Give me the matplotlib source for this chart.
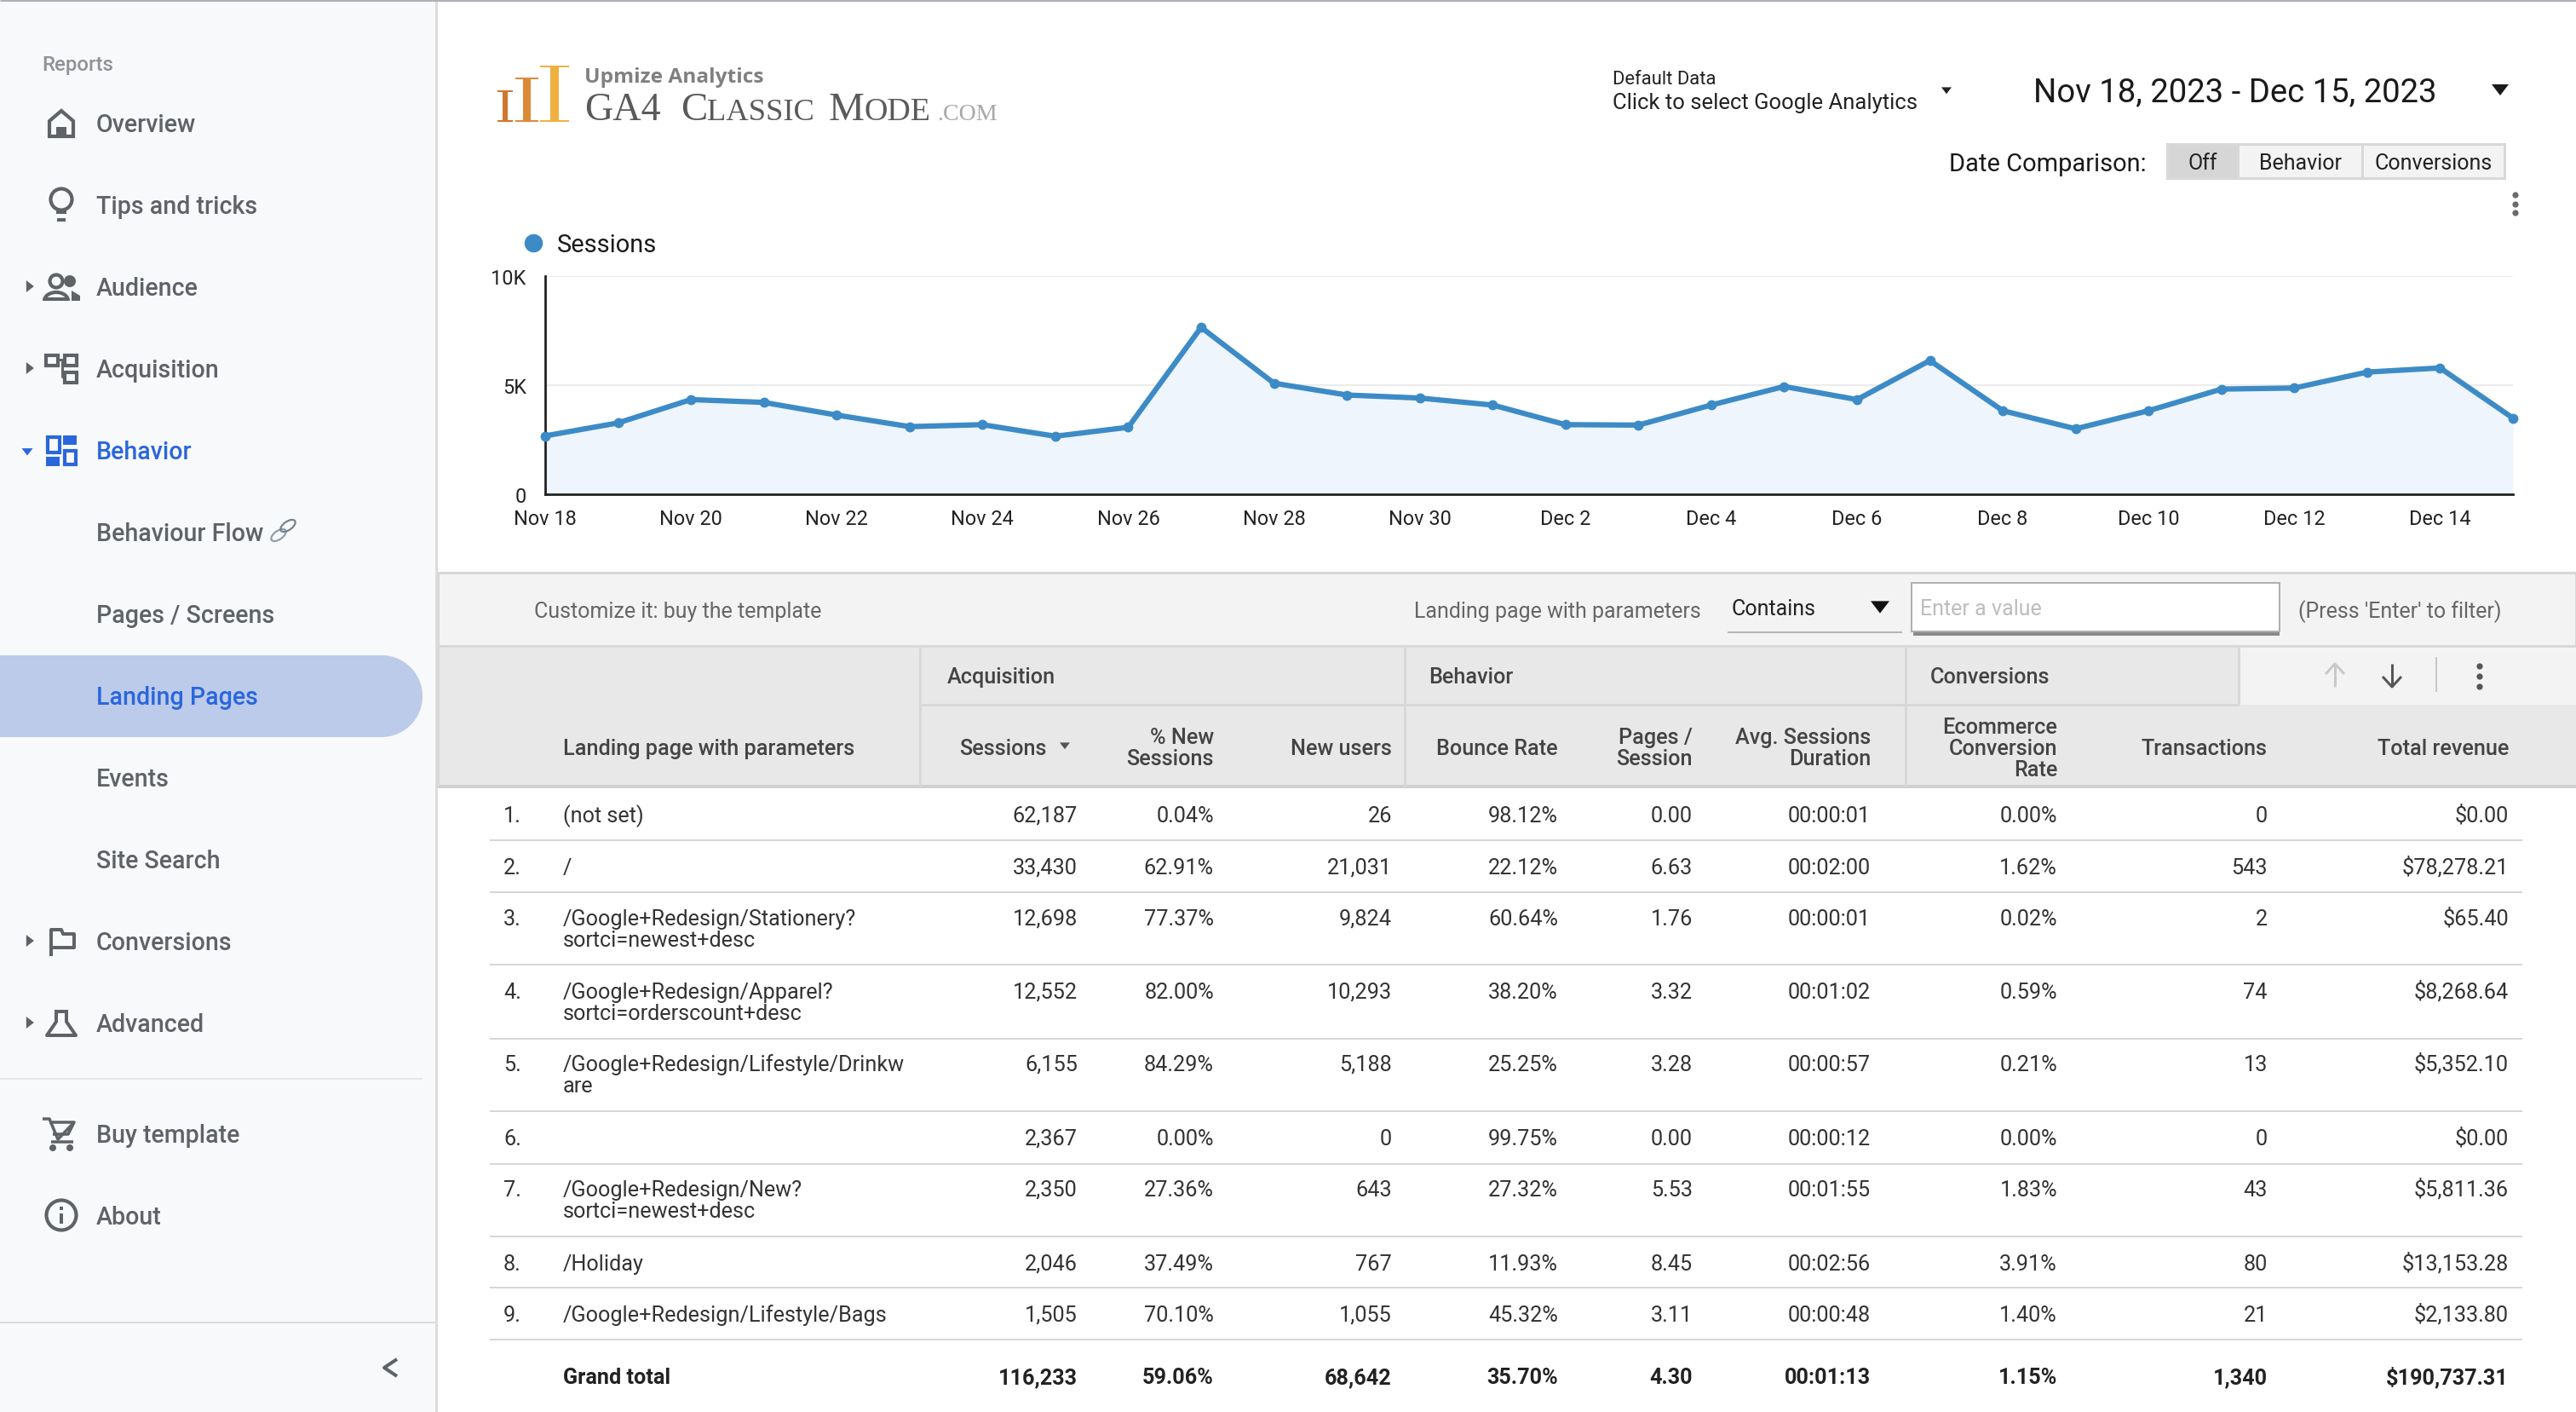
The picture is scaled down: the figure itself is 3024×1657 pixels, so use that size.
import matplotlib
matplotlib.use("Agg")
import matplotlib.pyplot as plt
from matplotlib.lines import Line2D
from matplotlib.patches import Rectangle, Circle, Ellipse, Polygon, Arc

plt.rcParams['font.family'] = ['Roboto', 'DejaVu Sans']

# chart data
days = ["Nov 18", "Nov 19", "Nov 20", "Nov 21", "Nov 22", "Nov 23", "Nov 24", "Nov 25", "Nov 26", "Nov 27",
        "Nov 28", "Nov 29", "Nov 30", "Dec 1", "Dec 2", "Dec 3", "Dec 4", "Dec 5", "Dec 6", "Dec 7",
        "Dec 8", "Dec 9", "Dec 10", "Dec 11", "Dec 12", "Dec 13", "Dec 14", "Dec 15"]
sessions = [2675, 3270, 4340, 4210, 3630, 3100, 3190, 2660, 3070, 7650,
            5090, 4550, 4410, 4090, 3190, 3170, 4090, 4940, 4340, 6130,
            3830, 3000, 3830, 4820, 4870, 5600, 5790, 3490]

# table data
pages = ["(not set)", "/", "/Google+Redesign/Stationery?\nsortci=newest+desc",
         "/Google+Redesign/Apparel?\nsortci=orderscount+desc",
         "/Google+Redesign/Lifestyle/Drinkw\nare", "", "/Google+Redesign/New?\nsortci=newest+desc",
         "/Holiday", "/Google+Redesign/Lifestyle/Bags"]
col_sessions = ["62,187", "33,430", "12,698", "12,552", "6,155", "2,367", "2,350", "2,046", "1,505"]
col_new_pct = ["0.04%", "62.91%", "77.37%", "82.00%", "84.29%", "0.00%", "27.36%", "37.49%", "70.10%"]
col_new_users = ["26", "21,031", "9,824", "10,293", "5,188", "0", "643", "767", "1,055"]
col_bounce = ["98.12%", "22.12%", "60.64%", "38.20%", "25.25%", "99.75%", "27.32%", "11.93%", "45.32%"]
col_pages = ["0.00", "6.63", "1.76", "3.32", "3.28", "0.00", "5.53", "8.45", "3.11"]
col_duration = ["00:00:01", "00:02:00", "00:00:01", "00:01:02", "00:00:57", "00:00:12", "00:01:55", "00:02:56", "00:00:48"]
col_ecom = ["0.00%", "1.62%", "0.02%", "0.59%", "0.21%", "0.00%", "1.83%", "3.91%", "1.40%"]
col_trans = ["0", "543", "2", "74", "13", "0", "43", "80", "21"]
col_revenue = ["$0.00", "$78,278.21", "$65.40", "$8,268.64", "$5,352.10", "$0.00", "$5,811.36", "$13,153.28", "$2,133.80"]
totals = ["116,233", "59.06%", "68,642", "35.70%", "4.30", "00:01:13", "1.15%", "1,340", "$190,737.31"]
columns = [col_sessions, col_new_pct, col_new_users, col_bounce, col_pages, col_duration, col_ecom, col_trans, col_revenue]
headers = ["Sessions", "% New\nSessions", "New users", "Bounce Rate", "Pages /\nSession", "Avg. Sessions\nDuration",
           "Ecommerce\nConversion\nRate", "Transactions", "Total revenue"]

nav = [("Overview", 145), ("Tips and tricks", 241), ("Audience", 337), ("Acquisition", 433), ("Behavior", 529),
       ("Behaviour Flow", 625), ("Pages / Screens", 721), ("Landing Pages", 817), ("Events", 913),
       ("Site Search", 1009), ("Conversions", 1105), ("Advanced", 1201), ("Buy template", 1331), ("About", 1427)]

# layout, in pixels of the 3024x1658 picture
col_right = [1265, 1425, 1634, 1829, 1987, 2196, 2415, 2662, 2945]
row_y = [956, 1017, 1077, 1163, 1248, 1335, 1395, 1482, 1542]
row_lines = [987, 1048, 1133, 1220, 1305, 1367, 1452, 1512, 1573]

fig = plt.figure(figsize=(30.24, 16.58), dpi=100, facecolor='white')
ui = fig.add_axes([0, 0, 1, 1])
ui.set_xlim(0, 3024)
ui.set_ylim(1658, 0)
ui.axis('off')


def T(x, y, s, px=25.3, c='#333333', ha='left', w='normal', fam=None):
    kw = {'family': fam} if fam else {}
    return ui.text(x, y + 0.355 * px, s, fontsize=px * 0.72, color=c, ha=ha, va='baseline', fontweight=w, **kw)


def box(x0, y0, x1, y1, fc, ec='none', lw=0, z=1):
    ui.add_patch(Rectangle((x0, y0), x1 - x0, y1 - y0, fc=fc, ec=ec, lw=lw * 0.72, zorder=z))


def seg(xs, ys, c, lw=2, z=2, **kw):
    ui.plot(xs, ys, color=c, lw=lw * 0.72, zorder=z, solid_capstyle='butt', **kw)


def tri(x, y, size, c, down=True, z=5):
    if down:
        pts = [(x - size, y - size * 0.6), (x + size, y - size * 0.6), (x, y + size * 0.7)]
    else:
        pts = [(x - size * 0.6, y - size), (x - size * 0.6, y + size), (x + size * 0.7, y)]
    ui.add_patch(Polygon(pts, fc=c, ec='none', zorder=z))


# sidebar
box(0, 0, 512, 1658, '#f8f9fb')
seg([512, 512], [0, 1658], '#dcdcdc', 3)
seg([0, 3024], [1, 1], '#b0b0b8', 3, z=9)
T(49, 74, "Reports", 24, '#8f9296', w='medium')
box(0, 770, 448, 866, '#bccbea')
ui.add_patch(Circle((448, 818), 48, fc='#bccbea', ec='none', zorder=1))
for name, y in nav:
    blue = name in ("Behavior", "Landing Pages")
    T(113, y, name, 28.6, '#2a66dd' if blue else '#5f6368', w='medium')
seg([0, 496], [1267, 1267], '#e6e6e6', 2)
seg([0, 512], [1553, 1553], '#dcdcdc', 2)
seg([466, 451, 466], [1596, 1606, 1616], '#5f6368', 4)
for y in (337, 433, 1105, 1201):
    tri(35, y, 7, '#5f6368', down=False)
tri(32, 531, 6.5, '#2a66dd')

ic = '#5f6368'
# home
ui.add_patch(Polygon([(58, 161), (58, 143), (72, 131), (86, 143), (86, 161)], fc='none', ec=ic, lw=3, zorder=3))
box(66, 150, 78, 162, ic, z=3)
# bulb
ui.add_patch(Circle((72, 235), 12.5, fc='none', ec=ic, lw=3, zorder=3))
seg([66, 78], [250, 250], ic, 4)
seg([67, 77], [259, 259], ic, 4)
# audience
ui.add_patch(Circle((66, 331), 7.5, fc='none', ec=ic, lw=3, zorder=3))
ui.add_patch(Arc((66, 354), 28, 20, theta1=180, theta2=360, ec=ic, lw=3, zorder=3))
seg([52, 80], [352, 352], ic, 4)
ui.add_patch(Circle((82, 331), 7, fc=ic, ec='none', zorder=3))
ui.add_patch(Polygon([(84, 342), (94, 348), (94, 354), (84, 354)], fc=ic, ec='none', zorder=3))
# acquisition
for bx in [(54, 418, 68, 430), (76, 418, 90, 430), (76, 438, 90, 450)]:
    ui.add_patch(Rectangle((bx[0], bx[1]), bx[2] - bx[0], bx[3] - bx[1], fc='none', ec=ic, lw=3, zorder=3))
seg([68, 76], [423, 423], ic, 3)
seg([73, 73], [423, 444], ic, 3)
seg([73, 76], [444, 444], ic, 3)
# behavior
bc = '#2a66dd'
ui.add_patch(Rectangle((56, 514), 14, 18, fc='none', ec=bc, lw=3, zorder=3))
box(74, 512, 90, 523, bc, z=3)
box(54, 537, 70, 548, bc, z=3)
ui.add_patch(Rectangle((76, 530), 13, 16, fc='none', ec=bc, lw=3, zorder=3))
# conversions flag
seg([60, 60, 72, 74, 87, 87, 72], [1123, 1092, 1092, 1097, 1097, 1113, 1113], ic, 4)
seg([60, 74], [1113, 1113], ic, 4)
# advanced flask
seg([64, 80], [1188, 1188], ic, 4)
seg([66, 66, 55, 89, 78, 78], [1188, 1200, 1216, 1216, 1200, 1188], ic, 4)
# cart
seg([50, 58, 68, 87, 80, 62], [1314, 1314, 1338, 1318, 1332, 1332], ic, 3.5)
seg([58, 87], [1318, 1318], ic, 3.5)
seg([60, 86], [1341, 1341], ic, 3.5)
ui.add_patch(Circle((62, 1348), 4, fc=ic, ec='none', zorder=3))
ui.add_patch(Circle((82, 1348), 4, fc=ic, ec='none', zorder=3))
# about
ui.add_patch(Circle((72, 1427), 17.5, fc='none', ec=ic, lw=3, zorder=3))
seg([72, 72], [1425, 1437], ic, 4)
seg([72, 72], [1417, 1421], ic, 4)
# link emoji next to Behaviour Flow
ui.add_patch(Ellipse((327, 629), 20, 10, angle=-35, fc='none', ec='#8fa0ad', lw=1.6, zorder=3))
ui.add_patch(Ellipse((338, 618), 20, 10, angle=-35, fc='none', ec='#77838c', lw=1.6, zorder=3))

# logo
for x0, x1, top, col in [(584, 602, 107, '#d1762b'), (605, 632, 92, '#dd8a38'), (634, 668, 78, '#f0b040')]:
    mid = (x0 + x1) / 2
    wid = (x1 - x0) * 0.15
    box(mid - wid, top, mid + wid, 144, col)
    seg([x0, x1], [top + 1, top + 1], col, 2)
    seg([x0, x1], [143, 143], col, 2)
T(686, 88, "Upmize Analytics", 24.5, '#808080', w='bold', fam='Open Sans')

fig.canvas.draw()
rend = fig.canvas.get_renderer()
for lx, word in [(686, [("GA4", 46, '#5a5a5a')]),
                 (799, [("C", 47, '#5a5a5a'), ("LASSIC", 36.5, '#5a5a5a')]),
                 (973, [("M", 47, '#5a5a5a'), ("ODE", 38, '#5a5a5a')]),
                 (1100, [(".COM", 28, '#a8a8a8')])]:
    for piece, px, col in word:
        t = ui.text(lx, 141, piece, fontsize=px * 0.72, color=col, family='Liberation Serif', va='baseline')
        lx = ui.transData.inverted().transform(t.get_window_extent(rend))[1][0]

# top controls
T(1893, 91, "Default Data", 22, '#222222')
T(1893, 119, "Click to select Google Analytics", 25.6, '#222222')
tri(2285, 107, 6, '#222222')
T(2387, 106, "Nov 18, 2023 - Dec 15, 2023", 38.3, '#1a1a1a')
tri(2935, 106, 10, '#1a1a1a')
T(2288, 191, "Date Comparison:", 29, '#1a1a1a')
for x0, x1, label, fc in [(2544, 2627, "Off", '#d6d6d6'), (2627, 2773, "Behavior", '#f3f3f3'), (2773, 2940, "Conversions", '#f3f3f3')]:
    box(x0, 170, x1, 210, fc, ec='#d8d8d8', lw=3)
    T((x0 + x1) / 2, 190, label, 25, '#222222', ha='center')
for y in (230, 241, 251):
    ui.add_patch(Circle((2953, y), 3.6, fc='#6a6a6a', ec='none', zorder=3))

# filter bar
box(514, 673, 3024, 759, '#f3f3f3', ec='#d8d8d8', lw=3)
T(627, 716, "Customize it: buy the template", 25, '#666666')
T(1660, 716, "Landing page with parameters", 25, '#666666')
T(2032, 713, "Contains", 25, '#222222')
tri(2207, 713, 11, '#111111')
seg([2028, 2233], [743, 743], '#b5b5b5', 2)
box(2246, 689, 2676, 747, '#8a8a8a', z=1)
box(2244, 685, 2676, 742, 'white', ec='#b0b0b0', lw=2, z=2)
T(2254, 713, "Enter a value", 25, '#bdbdbd').set_zorder(4)
T(2698, 716, "(Press 'Enter' to filter)", 25, '#666666')

# table header
box(514, 759, 3024, 924, '#e8e8e8')
box(2628, 759, 3024, 828, '#f3f3f3')
seg([514, 3024], [759, 759], '#d8d8d8', 3)
seg([1080, 2628], [828, 828], '#d8d8d8', 3)
seg([514, 3024], [924, 924], '#d0d0d0', 4)
seg([514, 514], [759, 924], '#d8d8d8', 3)
for x, y1 in [(1080, 924), (1649, 924), (2237, 924), (2628, 828)]:
    seg([x, x], [759, y1], '#d8d8d8', 3)
for x, label in [(1112, "Acquisition"), (1677, "Behavior"), (2266, "Conversions")]:
    T(x, 793, label, w='medium', c='#444444')
T(661, 877, "Landing page with parameters", c='#444444', w='medium')
for right, head in zip(col_right, headers):
    if head == "Sessions":
        right = 1229
    parts = head.split("\n")
    start = 877 - (len(parts) - 1) * 12.5
    for i, part in enumerate(parts):
        T(right, start + i * 25, part, c='#444444', ha='right', w='medium')
tri(1250, 876, 6, '#555555')
# sort arrows
for x, c, up in [(2741, '#c8c8c8', True), (2808, '#555555', False)]:
    tip, tail = (780, 807) if up else (807, 780)
    head_y = tip + 12 if up else tip - 12
    seg([x, x], [tail, tip], c, 3)
    seg([x - 11, x, x + 11], [head_y, tip, head_y], c, 3)
seg([2860, 2860], [772, 813], '#c8c8c8', 2)
for y in (783, 795, 807):
    ui.add_patch(Circle((2911, y), 3.6, fc='#555555', ec='none', zorder=3))

# table body
for i, y in enumerate(row_y):
    T(591, y, f"{i + 1}.")
    for j, part in enumerate(pages[i].split("\n")):
        T(661, y + j * 25, part)
    for right, col in zip(col_right, columns):
        T(right, y, col[i], ha='right')
for y in row_lines:
    seg([575, 2961], [y, y], '#d6d6d6', 2)
T(661, 1615, "Grand total", c='#222222', w='bold')
for right, val in zip(col_right, totals):
    T(right, 1615, val, c='#222222', ha='right', w='bold')

# sessions chart
ax = fig.add_axes([640 / 3024, 1 - 581 / 1658, (2950 - 640) / 3024, 256 / 1658])
ax.patch.set_alpha(0)
x = list(range(len(days)))
ax.fill_between(x, sessions, 0, color='#eef5fd', lw=0, zorder=1)
ax.plot(x, sessions, color='#3d8bc6', lw=4.5, marker='o', ms=7.5, clip_on=False, zorder=3)
ax.set_xlim(0, len(days) - 1)
ax.set_ylim(0, 10000)
ax.set_yticks([0, 5000, 10000], ["0", "5K", "10K"])
ax.set_xticks(x[::2], days[::2])
ax.tick_params(length=0, labelsize=23.5 * 0.72, colors='#222222')
ax.tick_params(axis='x', pad=12.5)
ax.tick_params(axis='y', pad=16)
ax.grid(axis='y', color='#ececec', lw=1.6, zorder=0)
ax.set_axisbelow(True)
for s in ('top', 'right'):
    ax.spines[s].set_visible(False)
for s in ('left', 'bottom'):
    ax.spines[s].set_color('#222222')
    ax.spines[s].set_linewidth(2)
ax.legend(handles=[Line2D([], [], color='none', marker='o', mfc='#3d8bc6', mec='none', ms=15.5, label='Sessions')],
          loc='lower left', bbox_to_anchor=(-0.0103, 1.09), frameon=False, fontsize=29 * 0.72,
          handlelength=0.7, handletextpad=0.6, borderpad=0, borderaxespad=0, labelcolor='#1a1a1a')

fig.savefig("out.png", dpi=100, facecolor='white')
